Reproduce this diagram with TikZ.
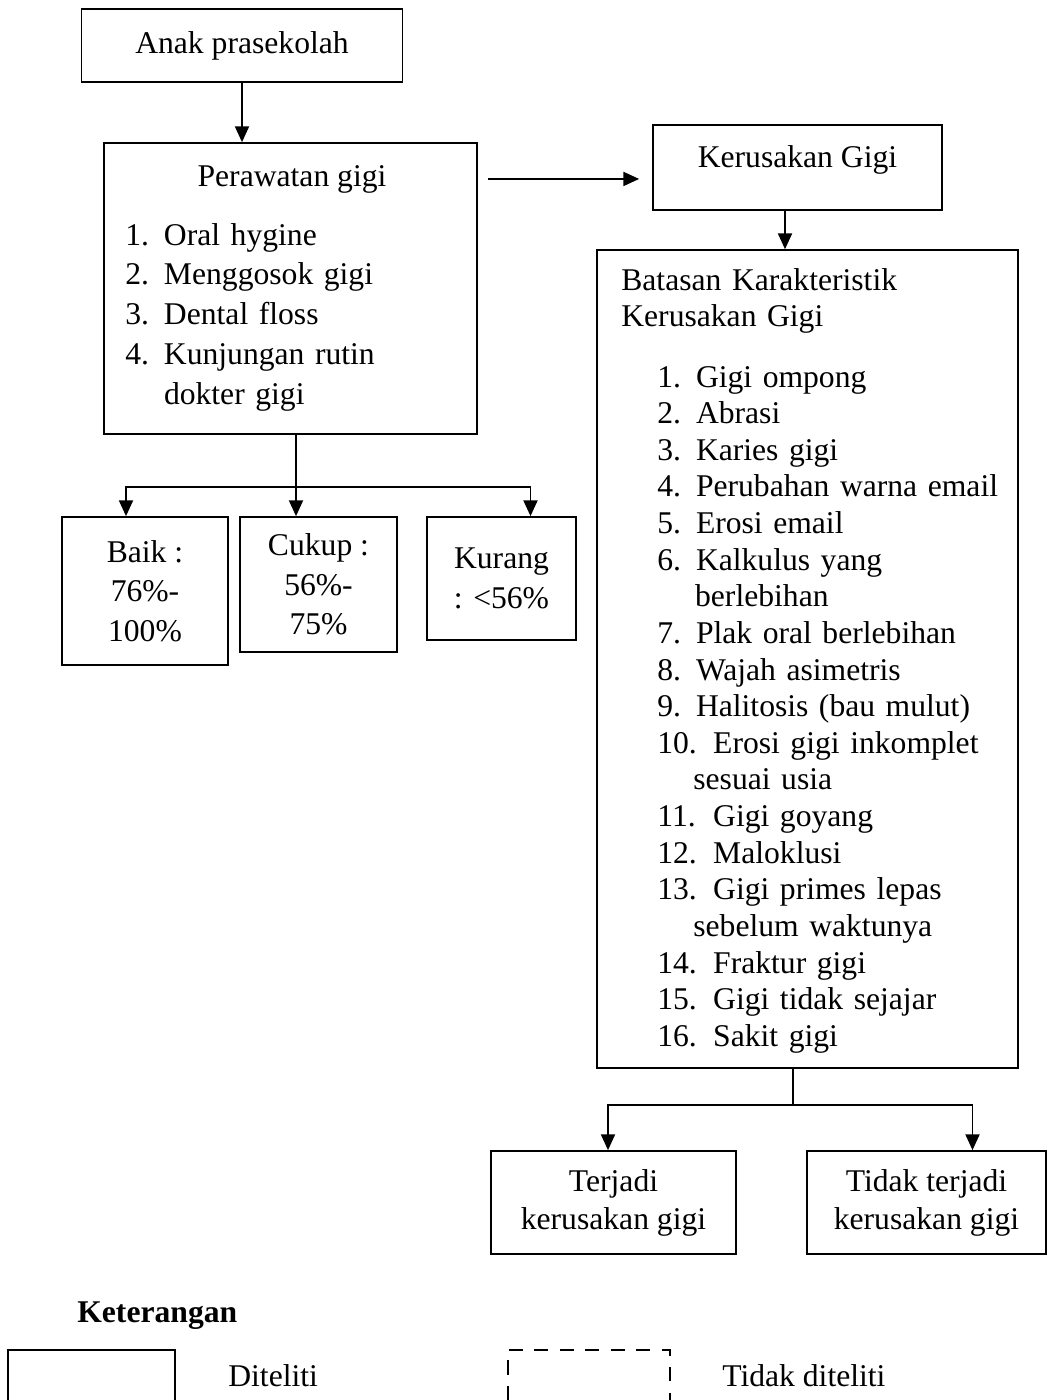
\documentclass[tikz,border=0pt]{standalone}
\usepackage{fontspec}
\setmainfont{Liberation Serif}
\usetikzlibrary{arrows.meta}

\newcommand{\butir}[2]{\makebox[22pt][l]{#1}#2}
\newcommand{\butirb}[2]{\makebox[31.8pt][l]{#1}#2}

\begin{document}
\begin{tikzpicture}[x=0.02cm,y=-0.02cm]
 \tikzstyle{kotak}=[rectangle,draw=black,line width=1pt,inner sep=0pt,
   align=center,font=\fontsize{18}{22.5}\selectfont]
 \tikzstyle{teks}=[inner sep=0pt,font=\fontsize{18}{22.5}\selectfont]
 \tikzstyle{garis}=[line width=1pt]
 \tikzstyle{panah}=[line width=1pt,-{Triangle[length=9pt,width=8pt]}]
 \useasboundingbox (0,0) rectangle (1047,1400);
 % kiri
 \node (anak) [kotak,minimum width=6.42cm,minimum height=1.46cm]
   at (242,45.5) {Anak prasekolah};
 \node (rawat) [kotak,minimum width=7.46cm,minimum height=5.82cm]
   at (290.5,288.5) {};
 \node (rawatjudul) [teks,anchor=base] at (292,186) {Perawatan gigi};
 \node (rawatdaftar) [teks,anchor=base west,text width=6cm,align=left,
   font=\fontsize{18}{22.7}\selectfont] at (125,245)
   {\butir{1.}{Oral hygine}\\
   \butir{2.}{Menggosok gigi}\\
   \butir{3.}{Dental floss}\\
   \butir{4.}{Kunjungan rutin}\\
   \hspace*{22pt}dokter gigi};
 \node (baik) [kotak,minimum width=3.32cm,minimum height=2.96cm]
   at (145,591) {Baik :\\76\%-\\100\%};
 \node (cukup) [kotak,minimum width=3.14cm,minimum height=2.7cm]
   at (318.5,584.5) {Cukup :\\56\%-\\75\%};
 \node (kurang) [kotak,minimum width=2.98cm,minimum height=2.46cm]
   at (501.5,578.5) {Kurang\\: <56\%};
 % kanan
 \node (rusak) [kotak,minimum width=5.78cm,text height=0.85cm,text depth=0.85cm]
   at (797.5,167.5) {Kerusakan Gigi};
 \node (batas) [kotak,minimum width=8.42cm,minimum height=16.36cm]
   at (807.5,659) {};
 \node (batasjudul) [teks,anchor=base west,text width=7.5cm,align=left,
   font=\fontsize{18}{21}\selectfont] at (621,290)
   {Batasan Karakteristik\\Kerusakan Gigi};
 \node (batasdaftar) [teks,anchor=base west,text width=7.4cm,align=left,
   font=\fontsize{18}{20.85}\selectfont] at (657,387)
   {\butir{1.}{Gigi ompong}\\
   \butir{2.}{Abrasi}\\
   \butir{3.}{Karies gigi}\\
   \butir{4.}{Perubahan warna email}\\
   \butir{5.}{Erosi email}\\
   \butir{6.}{Kalkulus yang}\\
   \hspace*{21.5pt}berlebihan\\
   \butir{7.}{Plak oral berlebihan}\\
   \butir{8.}{Wajah asimetris}\\
   \butir{9.}{Halitosis (bau mulut)}\\
   \butirb{10.}{Erosi gigi inkomplet}\\
   \hspace*{20.5pt}sesuai usia\\
   \butirb{11.}{Gigi goyang}\\
   \butirb{12.}{Maloklusi}\\
   \butirb{13.}{Gigi primes lepas}\\
   \hspace*{20.5pt}sebelum waktunya\\
   \butirb{14.}{Fraktur gigi}\\
   \butirb{15.}{Gigi tidak sejajar}\\
   \butirb{16.}{Sakit gigi}};
 \node (terjadi) [kotak,minimum width=4.9cm,minimum height=2.06cm,
   font=\fontsize{18}{21.6}\selectfont] at (613.5,1202.5)
   {Terjadi\\kerusakan gigi};
 \node (tidak) [kotak,minimum width=4.78cm,minimum height=2.06cm,
   font=\fontsize{18}{21.6}\selectfont] at (926.5,1202.5)
   {Tidak terjadi\\kerusakan gigi};
 % keterangan
 \node (ket) [teks,anchor=base west,font=\fontsize{18}{22}\selectfont\bfseries]
   at (77,1322) {Keterangan};
 \node (diteliti) [teks,anchor=base west] at (228,1386) {Diteliti};
 \node (tidakditeliti) [teks,anchor=base west] at (722,1386) {Tidak diteliti};
 \draw[garis] (8,1400) |- (175,1350) -- (175,1400);
 \draw[line width=1.4pt,dash pattern=on 8pt off 6.5pt] (508,1400) |- (670,1350) -- (670,1400);
 % panah
 \coordinate (cabang1) at (296,487);
 \coordinate (cabang2) at (793,1105);
 \draw[panah] (anak) -- (anak |- rawat.north);
 \draw[panah] ([xshift=0.2cm]rawat.east |- rawatjudul) -- ([xshift=-0.26cm]rusak.west |- rawatjudul);
 \draw[panah] ([xshift=-0.25cm]rusak.south) -- ([xshift=-0.25cm]rusak.south |- batas.north);
 \draw[garis] (rawat.south -| cabang1) -- (cabang1);
 \draw[panah] (cabang1) -| ([xshift=-0.38cm]baik.north);
 \draw[panah] (cabang1) -- (cabang1 |- cukup.north);
 \draw[panah] (cabang1) -| ([xshift=0.58cm]kurang.north);
 \draw[garis] (batas.south -| cabang2) -- (cabang2);
 \draw[panah] (cabang2) -| ([xshift=-0.11cm]terjadi.north);
 \draw[panah] (cabang2) -| ([xshift=0.92cm]tidak.north);
\end{tikzpicture}
\end{document}
